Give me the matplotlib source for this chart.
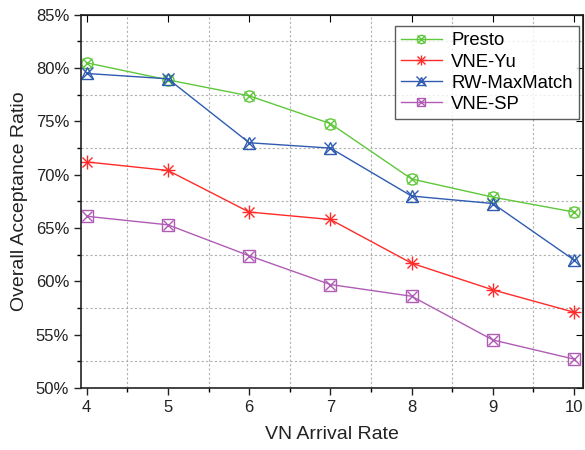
import numpy as np
import matplotlib
matplotlib.use("Agg")
import matplotlib.pyplot as plt
from matplotlib.ticker import MultipleLocator, FuncFormatter
from matplotlib.legend_handler import HandlerTuple

plt.rcParams["font.family"] = ["Liberation Sans", "DejaVu Sans"]

rates = [4, 5, 6, 7, 8, 9, 10]
presto = [80.5, 78.9, 77.4, 74.8, 69.6, 67.9, 66.5]
vne_yu = [71.2, 70.4, 66.5, 65.8, 61.7, 59.2, 57.1]
rw_maxmatch = [79.5, 79.0, 73.0, 72.5, 68.0, 67.3, 62.0]
vne_sp = [66.1, 65.3, 62.4, 59.7, 58.6, 54.5, 52.7]

series = [
    ("Presto", presto, "#5fc83a", "o"),
    ("VNE-Yu", vne_yu, "#ff2a2a", "+"),
    ("RW-MaxMatch", rw_maxmatch, "#2f5bb0", "^"),
    ("VNE-SP", vne_sp, "#b05cb5", "s"),
]

fig = plt.figure(figsize=(5.85, 4.5), dpi=100)
ax = fig.add_axes([0.1385, 0.138, 0.858, 0.829])

handles, labels = [], []
for name, vals, col, mk in series:
    ms = 10 if mk == "+" else 8
    l1, = ax.plot(rates, vals, color=col, lw=1.0, marker=mk, ms=ms,
                  mfc="none", mec=col, mew=1.0)
    l2, = ax.plot(rates, vals, ls="none", marker="x", ms=7 if mk != "^" else 9,
                  mec=col, mew=1.0)
    handles.append((l1, l2))
    labels.append(name)

ax.set_xlim(3.93, 10.11)
ax.set_ylim(50, 85)
ax.xaxis.set_major_locator(MultipleLocator(1))
ax.xaxis.set_minor_locator(MultipleLocator(0.5))
ax.yaxis.set_major_locator(MultipleLocator(5))
ax.yaxis.set_minor_locator(MultipleLocator(2.5))
ax.yaxis.set_major_formatter(FuncFormatter(lambda v, p: f"{v:.0f}%"))

ax.grid(which="minor", ls=(0, (2, 2)), color="#b0b0b0", lw=0.8)
ax.grid(which="major", visible=False)
ax.tick_params(which="major", direction="out", length=5, width=1, labelsize=12,
               colors="#222222", top=False, right=False)
ax.tick_params(which="minor", direction="out", length=3, width=1)
for s in ax.spines.values():
    s.set_linewidth(1.2)
    s.set_color("#222222")

# inward major ticks on top/right
ax2 = ax.secondary_xaxis("top")
ax2.xaxis.set_major_locator(MultipleLocator(1))
ax2.tick_params(direction="in", length=5, labeltop=False)
ax3 = ax.secondary_yaxis("right")
ax3.yaxis.set_major_locator(MultipleLocator(5))
ax3.tick_params(direction="in", length=5, labelright=False)

ax.set_xlabel("VN Arrival Rate", fontsize=14, color="#222222", labelpad=8)
ax.set_ylabel("Overall Acceptance Ratio", fontsize=14, color="#222222", labelpad=6)

leg = ax.legend(handles, labels, handler_map={tuple: HandlerTuple(ndivide=1)},
                loc="upper right", bbox_to_anchor=(579 / 585, 1 - 26 / 450),
                bbox_transform=fig.transFigure, borderaxespad=0,
                fontsize=13.3, frameon=True, fancybox=False, markerscale=0.75,
                edgecolor="#333333", handlelength=2.2, handletextpad=0.5,
                labelspacing=0.22, borderpad=0.35)
leg.get_frame().set_linewidth(1.0)

fig.savefig("out.png", dpi=100)
